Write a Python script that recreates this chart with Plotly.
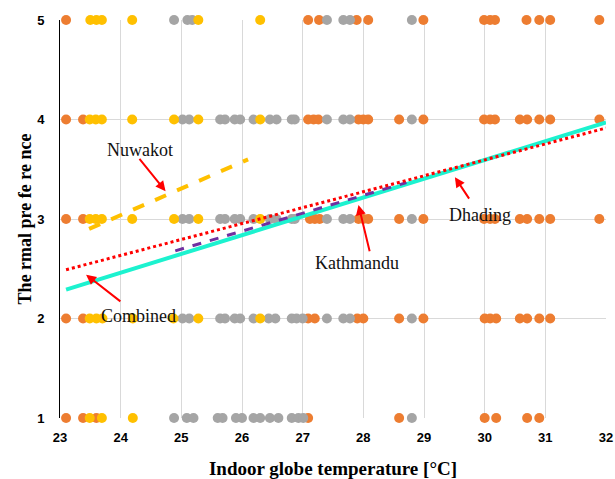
import plotly.graph_objects as go

# ---- data ----
dhading_x = [23.1, 27.09, 27.27, 27.89, 28.08, 28.99, 29.99, 30.09, 30.17, 30.69, 30.9, 31.08, 31.89,
             23.1, 23.38, 27.09, 27.18, 27.26, 27.92, 28.0, 28.08, 28.59, 28.99, 29.99, 30.09, 30.17, 30.58, 30.7, 30.9, 31.08, 31.89,
             23.1, 23.38, 27.12, 27.2, 27.28, 27.92, 28.0, 28.08, 28.59, 28.99, 29.99, 30.09, 30.17, 30.58, 30.7, 30.9, 31.08, 31.89,
             23.1, 23.38, 27.09, 27.2, 27.9, 28.0, 28.59, 28.99, 30.0, 30.09, 30.19, 30.58, 30.7, 30.9, 31.08,
             23.1, 23.38, 23.6, 27.09, 28.59, 30.0, 30.19, 30.7, 30.9]
dhading_y = [5]*13 + [4]*18 + [3]*18 + [2]*15 + [1]*9

kathmandu_x = [24.88, 25.1, 25.18, 27.4, 27.67, 27.78, 28.8,
               25.02, 25.13, 25.64, 25.72, 25.88, 25.97, 26.19, 26.46, 26.57, 26.82, 26.87, 27.4, 27.67, 27.78, 28.8,
               25.02, 25.13, 25.64, 25.72, 25.88, 25.97, 26.19, 26.46, 26.57, 26.82, 26.87, 27.4, 27.67, 27.78, 28.8,
               25.02, 25.13, 25.64, 25.72, 25.88, 25.97, 26.19, 26.44, 26.55, 26.82, 26.9, 27.0, 27.4, 27.67, 27.78, 28.8,
               24.88, 25.09, 25.2, 25.6, 25.68, 25.9, 26.0, 26.19, 26.3, 26.46, 26.6, 26.82, 26.93, 27.01, 28.8]
kathmandu_y = [5]*7 + [4]*15 + [3]*15 + [2]*16 + [1]*15

nuwakot_x = [23.5, 23.6, 23.69, 24.19, 25.28, 26.3,
             23.49, 23.59, 23.69, 24.19, 24.88, 25.28, 26.3,
             23.49, 23.59, 23.69, 24.19, 24.88, 25.28, 26.3,
             23.49, 23.6, 23.7, 24.2, 24.87, 25.28, 26.3,
             23.49, 23.69, 24.2]
nuwakot_y = [5]*6 + [4]*7 + [3]*7 + [2]*7 + [1]*3

# regression lines: name, slope, intercept, x start, x end
fit_names = ["Combined", "Dhading", "Kathmandu", "Nuwakot"]
fit_slope = [0.16, 0.1888, 0.18, 0.267]
fit_intercept = [-1.206, -2.071, -1.802, -3.369]
fit_xmin = [23.1, 23.1, 24.9, 23.48]
fit_xmax = [32.0, 32.0, 28.71, 26.1]

x_ticks = [23, 24, 25, 26, 27, 28, 29, 30, 31, 32]
y_ticks = [1, 2, 3, 4, 5]

# label annotations: text, text position, arrow tail, arrow tip
label_text = ["Nuwakot", "Kathmandu", "Dhading", "Combined"]
label_pos = [(24.32, 3.69), (27.9, 2.56), (29.92, 3.04), (24.29, 2.03)]
arrow_tail = [(24.29, 3.62), (28.11, 2.66), (29.76, 3.19), (24.02, 2.16)]
arrow_tip = [(24.74, 3.28), (27.92, 3.14), (29.51, 3.42), (23.43, 2.44)]

fig = go.Figure()

for xs, ys, col, nm in [(dhading_x, dhading_y, "#ED7D31", "Dhading"),
                        (kathmandu_x, kathmandu_y, "#A5A5A5", "Kathmandu"),
                        (nuwakot_x, nuwakot_y, "#FFC000", "Nuwakot")]:
    fig.add_trace(go.Scatter(x=xs, y=ys, mode="markers", name=nm,
                             marker=dict(color=col, size=10, line=dict(width=0)),
                             cliponaxis=False, showlegend=False))

line_styles = {
    "Combined": dict(color="#FF0000", width=3, dash="dot"),
    "Dhading": dict(color="#1CF2CF", width=4, dash="solid"),
    "Kathmandu": dict(color="#7030A0", width=3, dash="dash"),
    "Nuwakot": dict(color="#FFC000", width=4, dash="dash"),
}
draw_order = ["Dhading", "Kathmandu", "Combined", "Nuwakot"]
for nm in draw_order:
    i = fit_names.index(nm)
    xs = [fit_xmin[i], fit_xmax[i]]
    ys = [fit_slope[i] * x + fit_intercept[i] for x in xs]
    fig.add_trace(go.Scatter(x=xs, y=ys, mode="lines", line=line_styles[nm],
                             showlegend=False, cliponaxis=False))

for t, p, a, b in zip(label_text, label_pos, arrow_tail, arrow_tip):
    fig.add_annotation(x=b[0], y=b[1], ax=a[0], ay=a[1], xref="x", yref="y",
                       axref="x", ayref="y", showarrow=True, arrowhead=2,
                       arrowsize=1, arrowwidth=2, arrowcolor="#FF0000", text="")
    fig.add_annotation(x=p[0], y=p[1], text=t, showarrow=False,
                       font=dict(family="Liberation Serif", size=18, color="#111111"))

fig.update_layout(
    width=615, height=479,
    margin=dict(l=60, r=9, t=20, b=61),
    paper_bgcolor="white", plot_bgcolor="white",
    xaxis=dict(range=[23, 32], tickvals=x_ticks, showgrid=True, gridcolor="#D9D9D9",
               gridwidth=1, zeroline=False, showline=False, automargin=False,
               ticklabeloverflow="allow",
               tickfont=dict(family="Liberation Sans", size=13, color="#000000", weight="bold"),
               ticklabelstandoff=10,
               title=dict(text="Indoor globe temperature [°C]", standoff=17,
                          font=dict(family="Liberation Serif", size=19, color="#000000", weight="bold"))),
    yaxis=dict(range=[1, 5], tickvals=y_ticks, showgrid=True, gridcolor="#D9D9D9",
               gridwidth=1, zeroline=False, showline=True, linecolor="#000000", linewidth=1,
               automargin=False, ticklabeloverflow="allow",
               tickfont=dict(family="Liberation Sans", size=13, color="#000000", weight="bold"),
               ticklabelstandoff=12,
               title=dict(text="The rmal pre fe re nce", standoff=0,
                          font=dict(family="Liberation Serif", size=18, color="#000000", weight="bold"))),
)

fig.write_html("out.html", config={"displayModeBar": False},
               post_script="document.body.style.margin='0';")
